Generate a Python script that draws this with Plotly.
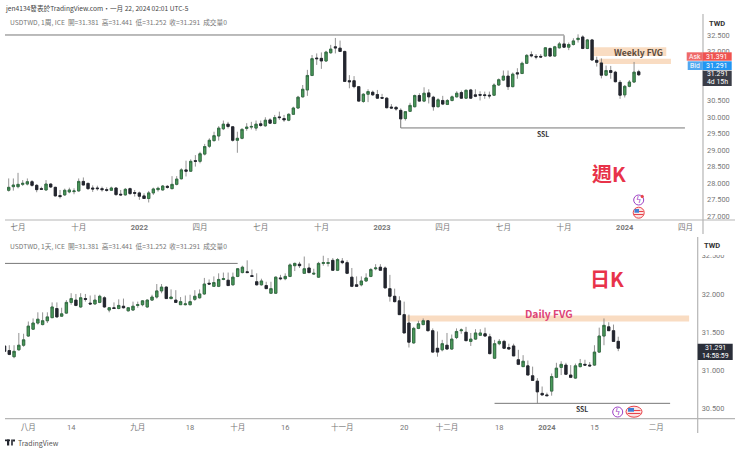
import plotly.graph_objects as go

# weekly candles
w_open = [27.78,27.89,27.89,27.96,27.97,28.04,27.93,27.83,27.79,27.97,27.87,27.62,27.64,27.73,27.74,27.76,28.05,27.99,27.85,27.85,
          27.83,27.80,27.78,27.85,27.66,27.64,27.83,27.71,27.70,27.61,27.53,27.70,27.80,27.79,27.90,27.83,27.96,28.13,28.40,28.36,
          28.68,28.66,28.88,29.12,29.29,29.43,29.65,29.79,29.71,29.30,29.36,29.66,29.70,29.67,29.80,29.74,29.92,29.81,30.01,29.96,
          29.91,30.09,30.28,30.62,30.83,31.27,31.80,31.79,31.71,31.96,32.14,32.10,32.00,31.11,31.11,30.93,30.48,30.70,30.76,30.69,
          30.60,30.58,30.31,30.30,30.21,29.96,30.18,30.32,30.66,30.49,30.74,30.61,30.32,30.51,30.39,30.51,30.62,30.75,30.58,30.83,
          30.68,30.69,30.68,30.67,30.67,30.98,31.13,31.25,30.93,31.35,31.33,31.64,31.90,31.85,31.85,31.86,32.09,31.86,32.11,32.23,
          32.13,32.21,32.36,32.44,32.09,32.35,31.73,31.65,31.28,31.42,31.37,31.06,30.68,30.94,31.07,31.381]
w_high = [28.14,28.14,28.31,28.09,28.14,28.09,27.97,27.89,28.09,27.99,27.89,27.79,27.83,27.86,27.84,28.14,28.17,28.01,27.93,27.92,
          27.89,27.87,27.89,27.87,27.79,27.85,27.86,27.79,27.74,27.69,27.76,27.86,27.89,27.94,27.94,28.21,28.21,28.45,28.68,28.72,
          28.85,28.95,29.19,29.36,29.56,29.73,29.90,29.86,29.73,29.56,29.67,29.82,29.86,29.90,29.90,30.00,29.97,30.07,30.17,30.07,
          30.12,30.32,30.65,30.98,31.44,31.89,31.94,31.97,32.02,32.20,32.41,32.33,32.02,31.28,31.25,30.95,30.73,30.85,30.81,30.83,
          30.71,30.61,30.40,30.34,30.27,30.19,30.44,30.69,30.73,30.91,30.85,30.65,30.58,30.65,30.55,30.66,30.79,30.81,30.84,30.86,
          30.85,30.79,30.78,30.78,31.03,31.18,31.42,31.42,31.36,31.49,31.69,31.92,32.00,31.92,31.92,32.13,32.12,32.17,32.29,32.47,
          32.27,32.40,32.52,32.49,32.38,32.38,31.84,31.79,31.57,31.56,31.41,31.13,30.98,31.13,31.68,31.441]
w_low = [27.74,27.77,27.84,27.91,27.93,27.89,27.72,27.79,27.77,27.85,27.59,27.53,27.61,27.69,27.66,27.74,27.93,27.79,27.73,27.77,
         27.74,27.74,27.76,27.61,27.62,27.62,27.64,27.59,27.49,27.52,27.41,27.64,27.74,27.77,27.83,27.81,27.93,28.11,28.20,28.34,
         28.50,28.60,28.84,29.07,29.26,29.29,29.61,29.66,29.26,28.92,29.33,29.59,29.63,29.59,29.71,29.71,29.80,29.79,29.92,29.86,
         29.88,30.07,30.26,30.60,30.65,31.25,31.59,31.47,31.68,31.93,31.94,31.99,31.07,30.88,30.88,30.47,30.44,30.46,30.65,30.56,
         30.57,30.27,30.26,30.20,29.92,29.90,30.16,30.30,30.47,30.46,30.42,30.20,30.30,30.37,30.37,30.48,30.60,30.56,30.56,30.56,
         30.61,30.51,30.56,30.57,30.65,30.95,31.10,30.83,30.91,31.17,31.31,31.62,31.82,31.76,31.80,31.84,31.84,31.84,32.09,32.11,
         32.04,32.18,32.27,32.07,32.07,31.72,31.54,31.18,31.25,31.17,31.06,30.56,30.60,30.91,31.05,31.252]
w_close = [27.87,27.94,27.96,27.99,28.04,27.93,27.80,27.81,27.97,27.88,27.61,27.59,27.78,27.79,27.76,28.05,27.94,27.83,27.82,27.83,
           27.80,27.78,27.85,27.65,27.64,27.81,27.68,27.69,27.60,27.53,27.70,27.82,27.84,27.91,27.87,27.96,28.12,28.40,28.36,28.66,
           28.66,28.89,29.11,29.30,29.44,29.67,29.79,29.72,29.30,29.36,29.63,29.70,29.72,29.79,29.75,29.91,29.82,29.99,29.99,29.92,
           30.09,30.28,30.61,30.85,31.27,31.78,31.78,31.71,31.98,32.07,32.11,32.00,31.09,31.08,30.93,30.49,30.70,30.78,30.68,30.58,
           30.58,30.29,30.28,30.25,29.95,30.17,30.36,30.66,30.49,30.73,30.62,30.32,30.53,30.40,30.51,30.62,30.73,30.58,30.82,30.58,
           30.64,30.67,30.66,30.65,30.98,31.14,31.25,30.93,31.31,31.32,31.64,31.88,31.87,31.83,31.83,32.11,31.86,32.14,32.23,32.13,
           32.21,32.32,32.40,32.09,32.35,31.74,31.67,31.28,31.42,31.36,31.08,30.67,30.94,31.07,31.37,31.291]

# daily candles
d_open = [31.32,31.26,31.18,31.27,31.33,31.45,31.54,31.62,31.60,31.65,31.69,31.81,31.71,31.75,31.89,31.92,31.83,31.94,31.88,31.87,
          31.89,31.95,31.79,31.82,31.81,31.84,31.78,31.79,31.85,31.86,31.83,31.92,31.96,32.04,32.09,31.94,31.92,31.86,31.86,31.86,
          31.93,31.95,32.00,32.14,32.10,32.10,32.19,32.18,32.12,32.23,32.28,32.29,32.24,32.16,32.12,32.11,32.01,32.01,32.21,32.20,
          32.23,32.37,32.39,32.27,32.34,32.26,32.22,32.40,32.40,32.44,32.31,32.43,32.41,32.22,32.12,32.12,32.17,32.23,32.33,32.35,
          32.34,32.07,31.97,31.91,31.73,31.62,31.36,31.55,31.60,31.65,31.52,31.29,31.27,31.33,31.28,31.43,31.52,31.50,31.38,31.41,
          31.46,31.48,31.44,31.16,31.35,31.38,31.30,31.32,31.14,31.05,31.06,30.93,30.86,30.70,30.68,30.73,30.91,31.04,31.07,30.94,
          30.90,31.05,31.08,31.07,31.07,31.24,31.45,31.57,31.52,31.381]
d_high = [31.33,31.33,31.33,31.49,31.48,31.64,31.68,31.76,31.76,31.76,31.89,31.89,31.82,31.92,32.01,32.00,32.01,32.00,31.98,31.99,
          31.99,31.97,31.83,31.89,31.93,31.94,31.83,31.90,31.90,31.92,31.93,31.99,32.13,32.13,32.10,32.06,32.05,31.96,31.98,31.99,
          32.05,32.06,32.21,32.19,32.23,32.27,32.28,32.28,32.28,32.34,32.37,32.44,32.32,32.27,32.20,32.16,32.16,32.23,32.25,32.27,
          32.40,32.41,32.42,32.49,32.40,32.33,32.42,32.50,32.47,32.47,32.47,32.47,32.44,32.34,32.23,32.23,32.27,32.34,32.39,32.39,
          32.36,32.25,32.07,31.97,31.90,31.73,31.57,31.65,31.68,31.66,31.55,31.51,31.40,31.49,31.47,31.55,31.55,31.57,31.49,31.54,
          31.54,31.56,31.48,31.40,31.41,31.40,31.35,31.35,31.27,31.20,31.13,31.05,30.90,30.79,30.71,30.96,31.10,31.12,31.10,31.07,
          31.09,31.15,31.14,31.11,31.33,31.56,31.68,31.63,31.60,31.441]
d_low = [31.23,31.20,31.16,31.26,31.31,31.44,31.53,31.60,31.59,31.62,31.69,31.69,31.70,31.74,31.86,31.84,31.82,31.90,31.86,31.86,
         31.88,31.82,31.76,31.81,31.80,31.81,31.77,31.78,31.82,31.84,31.82,31.91,31.94,32.01,31.94,31.93,31.89,31.86,31.85,31.85,
         31.91,31.94,31.99,32.12,32.10,32.09,32.18,32.11,32.11,32.22,32.27,32.28,32.23,32.11,32.11,32.07,32.00,32.00,32.18,32.18,
         32.22,32.30,32.34,32.27,32.27,32.25,32.21,32.37,32.36,32.31,32.30,32.39,32.26,32.09,32.10,32.10,32.16,32.22,32.31,32.31,
         32.07,31.90,31.89,31.73,31.49,31.30,31.35,31.54,31.59,31.51,31.23,31.18,31.25,31.27,31.27,31.41,31.48,31.38,31.32,31.40,
         31.45,31.44,31.21,31.15,31.33,31.28,31.27,31.19,31.07,31.05,30.94,30.87,30.57,30.67,30.67,30.67,30.90,30.94,30.94,30.90,
         30.89,31.04,31.06,31.05,31.06,31.23,31.33,31.52,31.38,31.252]
d_close = [31.25,31.21,31.25,31.33,31.40,31.58,31.62,31.67,31.65,31.70,31.83,31.70,31.74,31.89,31.94,31.85,31.95,31.93,31.87,31.92,
           31.97,31.83,31.82,31.81,31.85,31.82,31.82,31.84,31.86,31.91,31.92,31.96,32.04,32.09,31.94,31.96,31.89,31.90,31.87,31.90,
           31.97,32.00,32.13,32.13,32.15,32.19,32.20,32.11,32.22,32.33,32.35,32.28,32.23,32.12,32.17,32.07,32.07,32.22,32.20,32.23,
           32.38,32.40,32.37,32.33,32.28,32.27,32.40,32.41,32.41,32.31,32.45,32.41,32.27,32.10,32.10,32.17,32.21,32.32,32.34,32.31,
           32.08,31.97,31.90,31.73,31.49,31.37,31.55,31.61,31.65,31.52,31.24,31.24,31.35,31.28,31.41,31.51,31.53,31.39,31.41,31.49,
           31.49,31.45,31.22,31.35,31.38,31.29,31.28,31.19,31.08,31.12,30.94,30.87,30.72,30.68,30.67,30.92,31.03,31.08,30.95,30.91,
           31.06,31.09,31.07,31.06,31.24,31.45,31.59,31.52,31.38,31.291]

w_x = list(range(len(w_open)))
d_x = list(range(len(d_open)))

w_tickvals = [2, 15, 28, 41, 54, 67, 80, 93, 106, 119, 132, 145]
w_ticktext = ["七月", "十月", "<b>2022</b>", "四月", "七月", "十月", "<b>2023</b>", "四月", "七月", "十月", "<b>2024</b>", "四月"]
d_tickvals = [5, 14, 28, 39, 49, 59, 71, 84, 93, 104, 114, 124, 137]
d_ticktext = ["八月", "14", "九月", "18", "十月", "16", "十一月", "20", "十二月", "18", "<b>2024</b>", "15", "二月"]
# 31.5 and 31.0 sit behind the price tags on the weekly scale
w_yticks = [32.5, 32, 30.5, 30, 29.5, 29, 28.5, 28, 27.5, 27]
d_yticks = [32.5, 32, 31.5, 31, 30.5]

W, H = 740, 452
FONT = "Noto Sans CJK TC, Liberation Sans, sans-serif"
NUM_FONT = "Roboto, Noto Sans CJK TC, sans-serif"
UP, DOWN = "#4a9a5a", "#23262f"
WICK = "#777"
PEACH = "#f9dcc2"
FLAG_RED = "#e8434a"


def px(x):
    return x / W


def py(y):
    return 1 - y / H


def label(x, y, text, size=7.5, color="#555", anchor="left", family=FONT):
    return dict(xref="paper", yref="paper", x=px(x), y=py(y), text=text, showarrow=False,
                xanchor=anchor, yanchor="middle", font=dict(size=size, color=color, family=family))


def rect(x0, x1, y0, y1, color):
    return dict(type="rect", xref="paper", yref="paper", x0=px(x0), x1=px(x1), y0=py(y0), y1=py(y1),
                fillcolor=color, line=dict(width=0), layer="above")


def hline(x0, x1, y0, y1, color="#b5b5b5", width=1.2):
    return dict(type="line", xref="paper", yref="paper", x0=px(x0), x1=px(x1), y0=py(y0), y1=py(y1),
                line=dict(color=color, width=width), layer="above")


def circle(cx, cy, rx, ry, fill, edge, width=1):
    return dict(type="circle", xref="paper", yref="paper", x0=px(cx - rx), x1=px(cx + rx), y0=py(cy - ry), y1=py(cy + ry),
                fillcolor=fill, line=dict(color=edge, width=width), layer="above")


def candles(x, o, h, l, c, xa, ya):
    # grey wicks first, then the bodies on top so they keep their own edge colour
    wicks = go.Candlestick(x=x, open=o, high=h, low=l, close=c, xaxis=xa, yaxis=ya, showlegend=False, whiskerwidth=0,
                           increasing=dict(line=dict(color=WICK, width=0.8), fillcolor=UP),
                           decreasing=dict(line=dict(color=WICK, width=0.8), fillcolor=DOWN))
    tops = [max(a, b) for a, b in zip(o, c)]
    bottoms = [min(a, b) for a, b in zip(o, c)]
    bodies = go.Candlestick(x=x, open=o, high=tops, low=bottoms, close=c, xaxis=xa, yaxis=ya, showlegend=False, whiskerwidth=0,
                            increasing=dict(line=dict(color="#2f6b40", width=0.8), fillcolor=UP),
                            decreasing=dict(line=dict(color=DOWN, width=0.8), fillcolor=DOWN))
    return [wicks, bodies]


fig = go.Figure()
fig.add_traces(candles(w_x, w_open, w_high, w_low, w_close, "x", "y"))
fig.add_traces(candles(d_x, d_open, d_high, d_low, d_close, "x2", "y2"))

shapes = [
    # FVG boxes
    dict(type="rect", xref="x", yref="y", x0=125.2, x1=140.9, y0=31.86, y1=32.125, fillcolor=PEACH, line_width=0, layer="below"),
    dict(type="rect", xref="x", yref="y", x0=126.5, x1=141.9, y0=31.62, y1=31.78, fillcolor=PEACH, line_width=0, layer="below"),
    dict(type="rect", xref="x2", yref="y2", x0=84.5, x1=143.9, y0=31.64, y1=31.72, fillcolor=PEACH, line_width=0, layer="below"),
    # liquidity lines
    dict(type="line", xref="x", yref="y", x0=-1, x1=119, y0=32.5, y1=32.5, line=dict(color="#777", width=1)),
    dict(type="line", xref="x", yref="y", x0=119, x1=119, y0=32.5, y1=32.25, line=dict(color="#999", width=1)),
    dict(type="line", xref="x", yref="y", x0=84, x1=144.9, y0=29.675, y1=29.675, line=dict(color="#777", width=1)),
    dict(type="line", xref="x", yref="y", x0=84, x1=84, y0=29.675, y1=29.95, line=dict(color="#777", width=1)),
    dict(type="line", xref="x2", yref="y2", x0=0, x1=49, y0=32.40, y1=32.40, line=dict(color="#777", width=1)),
    dict(type="line", xref="x2", yref="y2", x0=103, x1=139.9, y0=30.57, y1=30.57, line=dict(color="#777", width=1)),
    # pane frames
    hline(5, 735, 220, 220),
    hline(703, 703, 14, 234),
    hline(5, 735, 418.7, 418.7),
    hline(697.7, 697.7, 237, 433),
    # TWD box and price tags
    rect(699, 733, 240, 255, "white"),
    rect(686.7, 702.7, 52.3, 60.7, "#ef6a6a"),
    rect(702.7, 731.7, 52.3, 60.7, "#ef5350"),
    rect(687.7, 702.7, 61.3, 70, "#52a8f0"),
    rect(702.7, 731.7, 61.3, 70, "#2196f3"),
    rect(702.7, 731.7, 70.7, 86, "#3a3d47"),
    rect(697.7, 732.7, 343.7, 360, "#2a2e39"),
    # event icons
    circle(638.7, 200, 5, 5, "white", "#9c3fc4"),
    circle(642.2, 196.5, 1.2, 1.2, FLAG_RED, FLAG_RED),
    circle(638.7, 212.7, 5.5, 5.5, "#fbe3e3", FLAG_RED),
    rect(634.5, 639, 209, 212.7, "#3f7fd6"),
    hline(634, 643.5, 214.5, 214.5, FLAG_RED, 1),
    hline(639, 643.5, 211.5, 211.5, FLAG_RED, 1),
    circle(617.7, 412, 5, 5, "white", "#9c3fc4"),
    circle(634, 411.7, 8, 5.5, "#fbe3e3", FLAG_RED),
    rect(628, 634, 408, 411.7, "#3f7fd6"),
    hline(627.5, 640.5, 413.5, 413.5, FLAG_RED, 1),
    hline(634, 640.5, 410.5, 410.5, FLAG_RED, 1),
    # TradingView logo
    rect(5, 10, 439.5, 441.2, "#23262f"),
    rect(7, 9.2, 439.5, 445.5, "#23262f"),
    rect(11.2, 12.8, 439.5, 445.5, "#23262f"),
    rect(12.8, 15, 439.5, 441.5, "#23262f"),
]

annotations = [
    label(3, 8, "jen4134發表於TradingView.com・一月 22, 2024 02:01 UTC-5", size=6.65, color="#444"),
    label(8, 22.5, "USDTWD, 1周, ICE  開=31.381  高=31.441  低=31.252  收=31.291  成交量0", size=6.7, color="#777"),
    label(8, 245.7, "USDTWD, 1天, ICE  開=31.381  高=31.441  低=31.252  收=31.291  成交量0", size=6.7, color="#777"),
    label(16, 443, "TradingView", size=7, color="#555"),
    label(638.7, 51.7, "<b>Weekly FVG</b>", size=8.6, color="#5a4a3c", anchor="center"),
    label(548.7, 313.3, "<b>Daily FVG</b>", size=10.3, color="#dd4477", anchor="center"),
    label(542.7, 133.7, "<b>SSL</b>", size=6.8, color="#333", anchor="center"),
    label(582, 409.3, "<b>SSL</b>", size=6.8, color="#333", anchor="center"),
    label(608.7, 173, "<b>週K</b>", size=20, color="#e8334a", anchor="center"),
    label(607, 278, "<b>日K</b>", size=20, color="#e8334a", anchor="center"),
    label(638.7, 200, "ϟ", size=8, color="#9c3fc4", anchor="center", family="DejaVu Sans"),
    label(617.7, 412, "ϟ", size=8, color="#9c3fc4", anchor="center", family="DejaVu Sans"),
    label(716.7, 23, "<b>TWD</b>", size=7.5, color="#333", anchor="center", family=NUM_FONT),
    label(711.7, 246, "<b>TWD</b>", size=7.5, color="#333", anchor="center", family=NUM_FONT),
    label(694.7, 56.5, "Ask", size=6.8, color="white", anchor="center", family=NUM_FONT),
    label(717.2, 56.5, "31.391", size=7, color="white", anchor="center", family=NUM_FONT),
    label(695.2, 65.6, "Bid", size=6.8, color="white", anchor="center", family=NUM_FONT),
    label(717.2, 65.6, "31.291", size=7, color="white", anchor="center", family=NUM_FONT),
    label(717.2, 74.4, "31.291", size=6.9, color="white", anchor="center", family=NUM_FONT),
    label(717.2, 82.2, "4d 15h", size=6.9, color="white", anchor="center", family=NUM_FONT),
    label(715.2, 347.8, "31.291", size=6.9, color="white", anchor="center", family=NUM_FONT),
    label(715.2, 355.8, "14:58:59", size=6.9, color="white", anchor="center", family=NUM_FONT),
]

x_font = dict(size=7.5, color="#777", family=NUM_FONT)
y_font = dict(size=7.4, color="#777", family=NUM_FONT)
fig.update_layout(
    width=W, height=H, autosize=False,
    margin=dict(l=0, r=0, t=0, b=0),
    paper_bgcolor="white", plot_bgcolor="white",
    showlegend=False, hovermode=False,
    shapes=shapes, annotations=annotations,
    xaxis=dict(domain=[px(5), px(703)], range=[-0.79, 148.77], tickvals=w_tickvals, ticktext=w_ticktext,
               tickfont=x_font, showgrid=False, zeroline=False, ticks="", rangeslider=dict(visible=False),
               anchor="y", tickangle=0, ticklabelstandoff=1),
    yaxis=dict(domain=[py(220), py(14)], range=[26.877, 33.138], tickvals=w_yticks, tickformat=".3f",
               tickfont=y_font, showgrid=False, zeroline=False, ticks="", side="right", anchor="x", ticklabelstandoff=3),
    xaxis2=dict(domain=[px(5), px(697.7)], range=[0.095, 145.7], tickvals=d_tickvals, ticktext=d_ticktext,
                tickfont=x_font, showgrid=False, zeroline=False, ticks="", rangeslider=dict(visible=False),
                anchor="y2", tickangle=0, ticklabelstandoff=3),
    yaxis2=dict(domain=[py(418.7), py(240)], range=[30.369, 32.706], tickvals=d_yticks, tickformat=".3f",
                tickfont=y_font, showgrid=False, zeroline=False, ticks="", side="right", anchor="x2", ticklabelstandoff=3),
)

# the page's default body margin would push the figure off the window
fig.write_html("out.html", post_script="document.body.style.margin='0';document.body.style.overflow='hidden';",
               config=dict(displayModeBar=False))
